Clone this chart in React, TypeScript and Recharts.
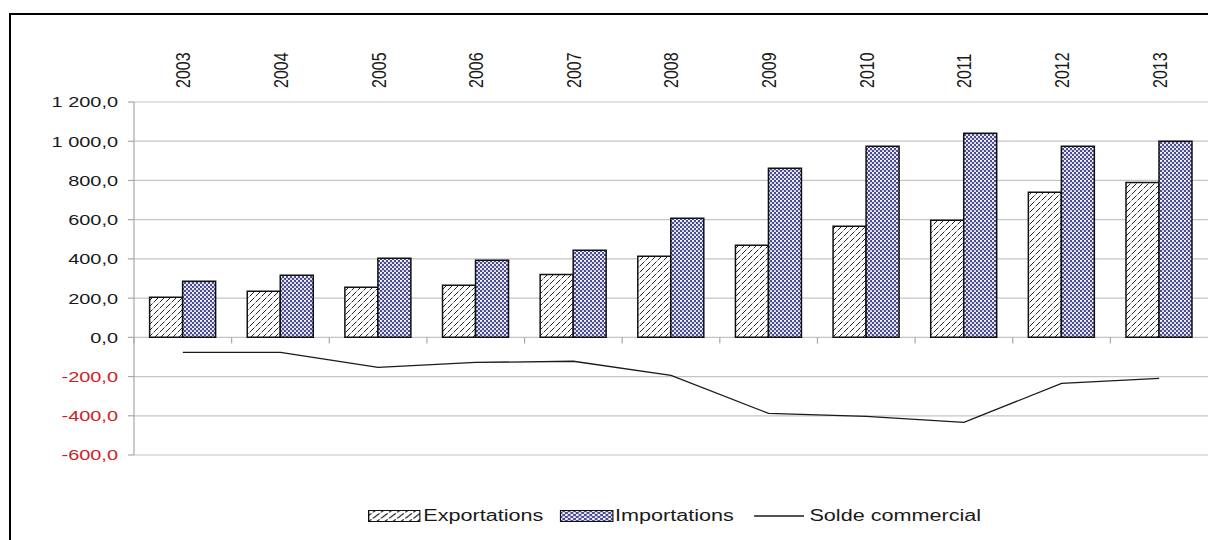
import React from 'react';
import { ComposedChart, Bar, Line, XAxis, YAxis, CartesianGrid, ReferenceLine } from 'recharts';

const years = ['2003', '2004', '2005', '2006', '2007', '2008', '2009', '2010', '2011', '2012', '2013'];
const exportations = [204, 235, 255, 265, 321, 413, 469, 566, 597, 740, 790];
const importations = [286, 316, 403, 393, 444, 607, 862, 974, 1041, 974, 1000];
const solde = [-77, -77, -153, -128, -122, -194, -388, -403, -434, -235, -209];
const yTicks = [-600, -400, -200, 0, 200, 400, 600, 800, 1000, 1200];

const data = years.map((y, i) => ({
  year: y,
  Exportations: exportations[i],
  Importations: importations[i],
  Solde: solde[i],
}));

const FONT = '"Liberation Sans", Arial, sans-serif';

function fmt(v: number): string {
  const neg = v < 0;
  const a = Math.abs(v);
  const s = String(Math.round(a)).replace(/\B(?=(\d{3})+(?!\d))/g, ' ');
  return (neg ? '-' : '') + s + ',0';
}

const YTick = (props: any) => {
  const { x, y, payload } = props;
  const v = payload.value as number;
  return (
    <g transform={`translate(${x},${y})`}>
      <text
        transform="scale(1.33,1)"
        x={0}
        y={0}
        dy="0.36em"
        textAnchor="end"
        fontFamily={FONT}
        fontSize={15}
        fill={v < 0 ? '#d42020' : '#1a1a1a'}
      >
        {fmt(v)}
      </text>
    </g>
  );
};

const XTick = (props: any) => {
  const { x, y, payload } = props;
  return (
    <g transform={`translate(${x},${y}) rotate(-90) scale(1,1.3)`}>
      <text x={0} y={0} dy="0.36em" textAnchor="start" fontFamily={FONT} fontSize={16} fill="#1a1a1a">
        {payload.value}
      </text>
    </g>
  );
};

const Patterns = ({ prefix }: { prefix: string }) => (
  <defs>
    <pattern id={`${prefix}hatch`} patternUnits="userSpaceOnUse" width={6} height={6}>
      <rect width={6} height={6} fill="#ffffff" />
      <path d="M-1,7 L7,-1" stroke="#222" strokeWidth={1} strokeDasharray="5 1.5" />
      <path d="M-4,4 L4,-4 M2,10 L10,2" stroke="#222" strokeWidth={1} />
    </pattern>
    <pattern id={`${prefix}dots`} patternUnits="userSpaceOnUse" width={4} height={4}>
      <rect width={4} height={4} fill="#4a4a90" />
      <circle cx={1} cy={1} r={1.1} fill="#ffffff" />
      <circle cx={3} cy={3} r={1.1} fill="#f0f0fa" />
    </pattern>
  </defs>
);

export default function App() {
  return (
    <div
      style={{
        position: 'fixed',
        left: 0,
        top: 0,
        width: 1208,
        height: 540,
        overflow: 'hidden',
        background: '#fff',
      }}
    >
      <div
        style={{
          position: 'absolute',
          left: 9,
          top: 13,
          width: 1400,
          height: 700,
          border: '2px solid #000',
        }}
      />
      <div style={{ position: 'absolute', left: 0, top: 0 }}>
        <ComposedChart
          width={1208}
          height={540}
          data={data}
          margin={{ top: 0, right: 0, bottom: 85, left: 10 }}
          barCategoryGap="16%"
          barGap={0}
        >
          <Patterns prefix="c-" />
          <CartesianGrid vertical={false} stroke="#c4c4c4" strokeWidth={1.2} />
          <XAxis
            dataKey="year"
            orientation="top"
            height={102}
            axisLine={false}
            tickLine={false}
            tickSize={0}
            tickMargin={14}
            tick={<XTick />}
            interval={0}
          />
          <YAxis
            domain={[-600, 1200]}
            ticks={yTicks}
            width={124}
            axisLine={{ stroke: '#a8a8a8', strokeWidth: 1.2 }}
            tickLine={{ stroke: '#a8a8a8', strokeWidth: 1.2 }}
            tickSize={6}
            tickMargin={10}
            tick={<YTick />}
            interval={0}
          />
          {years.map((yr) => (
            <ReferenceLine
              key={yr}
              segment={[{ x: yr, y: 0 }, { x: yr, y: -32 }]}
              position="start"
              stroke="#a8a8a8"
              strokeWidth={1.2}
              ifOverflow="visible"
            />
          ))}
          <Bar dataKey="Exportations" fill="url(#c-hatch)" stroke="#111" strokeWidth={1.5} isAnimationActive={false} />
          <Bar dataKey="Importations" fill="url(#c-dots)" stroke="#111" strokeWidth={1.5} isAnimationActive={false} />
          <Line
            type="linear"
            dataKey="Solde"
            stroke="#1a1a1a"
            strokeWidth={1.3}
            dot={false}
            activeDot={false}
            isAnimationActive={false}
          />
        </ComposedChart>
      </div>
      <div
        style={{
          position: 'absolute',
          left: 368,
          top: 507,
          display: 'flex',
          alignItems: 'center',
          whiteSpace: 'nowrap',
          fontFamily: FONT,
          fontSize: 16,
          color: '#1a1a1a',
          transform: 'scaleX(1.35)',
          transformOrigin: 'left center',
          lineHeight: '18px',
        }}
      >
        <svg width={39} height={12} style={{ display: 'block' }}>
          <Patterns prefix="l-" />
          <rect x={0.5} y={0.5} width={38} height={11} fill="url(#l-hatch)" stroke="#111" strokeWidth={1} />
        </svg>
        <span style={{ marginLeft: 2 }}>Exportations</span>
        <svg width={40} height={12} style={{ display: 'block', marginLeft: 12 }}>
          <rect x={0.5} y={0.5} width={39} height={11} fill="url(#l-dots)" stroke="#111" strokeWidth={1} />
        </svg>
        <span style={{ marginLeft: 1 }}>Importations</span>
        <svg width={37} height={12} style={{ display: 'block', marginLeft: 15 }}>
          <line x1={0} y1={6} x2={37} y2={6} stroke="#1a1a1a" strokeWidth={1.3} />
        </svg>
        <span style={{ marginLeft: 4 }}>Solde commercial</span>
      </div>
    </div>
  );
}
